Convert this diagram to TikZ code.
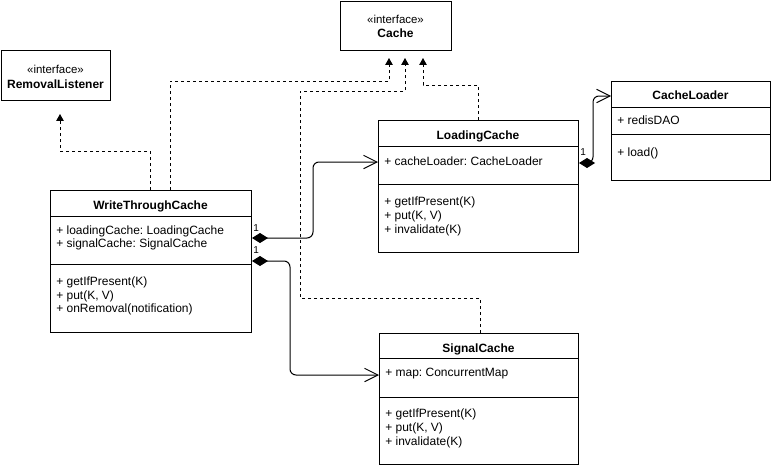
\documentclass[tikz,border=0pt]{standalone}
\usepackage{fontspec}
\setmainfont{Liberation Sans}
\usetikzlibrary{arrows.meta,calc}
\frenchspacing
\begin{document}
\frenchspacing
\begin{tikzpicture}[x=0.75pt,y=-0.75pt,
  lw/.style={line width=0.75pt},
  clsbox/.style={draw,lw,fill=white,inner sep=0pt,anchor=north west},
  ttl/.style={font=\fontsize{9}{10.8}\selectfont\bfseries,anchor=base,inner sep=0pt},
  mem/.style={font=\fontsize{9}{10.5}\selectfont\frenchspacing,anchor=base west,inner sep=0pt},
  stereo/.style={font=\fontsize{8.6}{10}\selectfont,anchor=base,inner sep=0pt},
  mult/.style={font=\fontsize{7.5}{9}\selectfont,anchor=base west,inner sep=0pt},
  realz/.style={lw,dash pattern=on 2.25pt off 2.25pt,-{Triangle[width=5.6pt,length=5.2pt]}},
  compo/.style={lw,rounded corners=4.5pt,{Diamond[width=7.5pt,length=12pt]}-{Straight Barb[length=10pt,width=10pt]}},
]
\fill[white] (0,0) rectangle (771,468);
\useasboundingbox (0,0) rectangle (771,468);

% boxes
\node[clsbox,minimum width=111*0.75pt,minimum height=49*0.75pt] (cache) at (340,1) {};
\node[clsbox,minimum width=109*0.75pt,minimum height=50*0.75pt] (rl) at (1,50) {};
\node[clsbox,minimum width=201*0.75pt,minimum height=142*0.75pt] (wtc) at (50,190) {};
\node[clsbox,minimum width=200*0.75pt,minimum height=132*0.75pt] (lc) at (378,120) {};
\node[clsbox,minimum width=159*0.75pt,minimum height=99*0.75pt] (cl) at (611,81) {};
\node[clsbox,minimum width=199*0.75pt,minimum height=131*0.75pt] (sig) at (379,333) {};

% separators
\draw[lw] ($(wtc.north west)+(0,26)$) -- ($(wtc.north east)+(0,26)$);
\draw[lw] ($(wtc.north west)+(0,74)$) -- ($(wtc.north east)+(0,74)$);
\draw[lw] ($(lc.north west)+(0,26)$) -- ($(lc.north east)+(0,26)$);
\draw[lw] ($(lc.north west)+(0,64)$) -- ($(lc.north east)+(0,64)$);
\draw[lw] ($(cl.north west)+(0,26)$) -- ($(cl.north east)+(0,26)$);
\draw[lw] ($(cl.north west)+(0,53)$) -- ($(cl.north east)+(0,53)$);
\draw[lw] ($(sig.north west)+(0,25)$) -- ($(sig.north east)+(0,25)$);
\draw[lw] ($(sig.north west)+(0,64)$) -- ($(sig.north east)+(0,64)$);

% interface texts
\node[stereo] (cachest) at (395.5,23) {«interface»};
\node[ttl] (cachet) at (395.5,37) {Cache};
\node[stereo] (rlst) at (55.5,73.5) {«interface»};
\node[ttl] (rlt) at (55.5,88) {RemovalListener};

% titles
\node[ttl] (wtct) at (150.5,209) {WriteThroughCache};
\node[ttl] (lct) at (478,139) {LoadingCache};
\node[ttl] (clt) at (690.5,99) {CacheLoader};
\node[ttl] (sigt) at (478.5,352) {SignalCache};

% members
\node[mem] (wtca1) at (56,234) {+ loadingCache: LoadingCache};
\node[mem] (wtca2) at (56,247.5) {+ signalCache: SignalCache};
\node[mem] (wtcm1) at (56,285.5) {+ getIfPresent(K)};
\node[mem] (wtcm2) at (56,299) {+ put(K, V)};
\node[mem] (wtcm3) at (56,312.5) {+ onRemoval(notification)};

\node[mem] (lca1) at (384,165) {+ cacheLoader: CacheLoader};
\node[mem] (lcm1) at (384,205) {+ getIfPresent(K)};
\node[mem] (lcm2) at (384,219) {+ put(K, V)};
\node[mem] (lcm3) at (384,233) {+ invalidate(K)};

\node[mem] (cla1) at (617,124) {+ redisDAO};
\node[mem] (clm1) at (617,156) {+ load()};

\node[mem] (siga1) at (385,376.5) {+ map: ConcurrentMap};
\node[mem] (sigm1) at (385,417) {+ getIfPresent(K)};
\node[mem] (sigm2) at (385,431) {+ put(K, V)};
\node[mem] (sigm3) at (385,445) {+ invalidate(K)};

% realization connectors
\draw[realz] ($(wtc.north west)+(120,0)$) |- (389,81) -- ($(cache.south west)+(49,7)$);
\draw[realz] ($(sig.north west)+(101,0)$) -- ++(0,-35) -| (300,91) -| ($(cache.south west)+(65,7)$);
\draw[realz] ($(lc.north west)+(100,0)$) |- (423,85) -- ($(cache.south west)+(83,7)$);
\draw[realz] ($(wtc.north west)+(100,0)$) |- (60,151) -- ($(rl.south west)+(59,13)$);

% composition connectors
\draw[compo] ($(wtc.north east)+(0,48)$) -| (313,162) -- ($(lc.north west)+(0,42)$);
\draw[compo] ($(wtc.north east)+(0,71)$) -| (290,375) -- ($(sig.north west)+(0,42)$);
\draw[compo] ($(lc.north east)+(0,43)$) -| (593,96) -- ($(cl.north west)+(0,15)$);

% multiplicities
\node[mult] (m1) at (253,231) {1};
\node[mult] (m2) at (253,253) {1};
\node[mult] (m3) at (580,155) {1};
\end{tikzpicture}
\end{document}
